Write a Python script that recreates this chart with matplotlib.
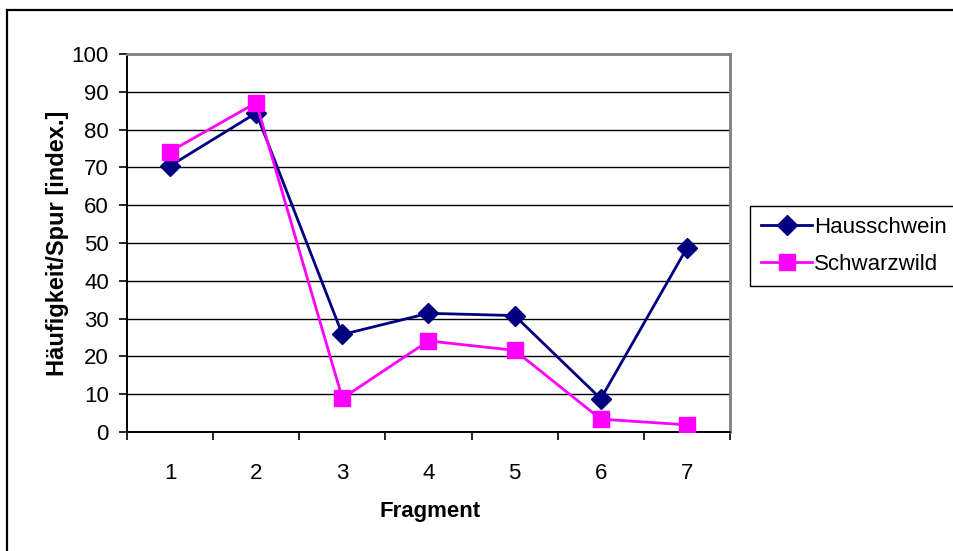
import matplotlib
matplotlib.use("Agg")
import matplotlib.pyplot as plt
from matplotlib.patches import Rectangle

plt.rcParams['font.family'] = ['Liberation Sans', 'DejaVu Sans']

fragmente = [1, 2, 3, 4, 5, 6, 7]
hausschwein = [70.4, 84.4, 25.8, 31.4, 30.8, 8.8, 48.7]
schwarzwild = [74.2, 87.1, 8.9, 24.1, 21.6, 3.4, 1.9]

W, H = 954, 551
fig = plt.figure(figsize=(W / 100, H / 100), dpi=100)

# outer chart frame, runs off the right and bottom edge
fig.patches.append(Rectangle((7 / W, -0.1), 1.2, 1 - 10 / H + 0.1, transform=fig.transFigure,
                             fill=False, edgecolor='black', linewidth=1.6))

ax = fig.add_axes([127 / W, 1 - 432 / H, (730 - 127) / W, (432 - 54) / H])

ax.plot(fragmente, hausschwein, color='#000080', linewidth=2, marker='D', markersize=10,
        label='Hausschwein', zorder=3)
ax.plot(fragmente, schwarzwild, color='#FF00FF', linewidth=2, marker='s', markersize=11,
        label='Schwarzwild', zorder=3)

ax.set_xlim(0.5, 7.5)
ax.set_ylim(0, 100)
ax.set_yticks(range(0, 101, 10))
ax.set_xticks(fragmente)
ax.set_xticks([i + 0.5 for i in range(0, 8)], minor=True)
ax.tick_params(axis='x', which='major', length=0, pad=22, labelsize=16)
ax.tick_params(axis='x', which='minor', length=6, width=1.2, direction='out')
ax.tick_params(axis='y', length=6, width=1.2, direction='out', pad=7, labelsize=16)

for y in range(10, 100, 10):
    ax.axhline(y, color='black', linewidth=1.0, zorder=1)

ax.spines['left'].set_linewidth(1.4)
ax.spines['bottom'].set_linewidth(1.4)
ax.spines['top'].set_color('#808080')
ax.spines['right'].set_color('#808080')
ax.spines['top'].set_linewidth(2)
ax.spines['right'].set_linewidth(2)

ax.set_xlabel('Fragment', fontsize=16, fontweight='bold')
ax.set_ylabel('Häufigkeit/Spur [index.]', fontsize=17, fontweight='bold')
ax.xaxis.set_label_coords(0.502, -(512 - 432) / (432 - 54), transform=ax.transAxes)
ax.yaxis.set_label_coords(-(127 - 58) / (730 - 127), 0.5, transform=ax.transAxes)
ax.xaxis.label.set_va('center')
ax.yaxis.label.set_va('center')

fig.legend(loc='upper left', bbox_to_anchor=(750 / W, 1 - 206 / H), fontsize=16,
           frameon=True, fancybox=False, edgecolor='black', framealpha=1,
           handlelength=2.3, borderpad=0.5, labelspacing=0.72, handletextpad=0.08,
           borderaxespad=0)

fig.savefig('out.png', dpi=100)
